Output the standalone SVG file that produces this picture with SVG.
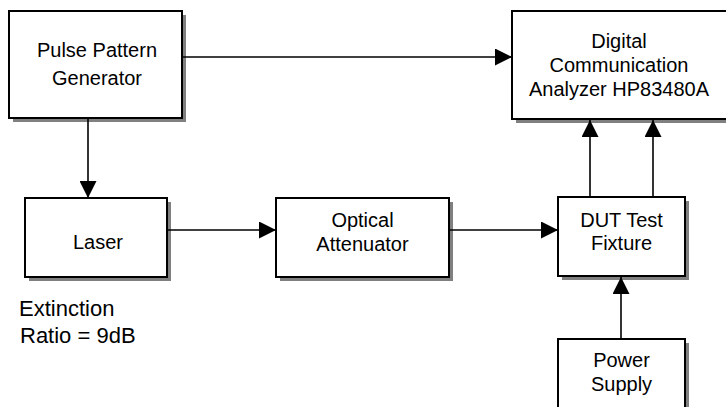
<svg xmlns="http://www.w3.org/2000/svg" width="726" height="407" viewBox="0 0 726 407">
<style>
.shadow{fill:#808080;stroke:none}
.box{fill:#ffffff;stroke:#000000;stroke-width:2}
.lbl{font-family:"Liberation Sans",Arial,sans-serif;font-size:20px;fill:#000000;text-anchor:middle}
.note{font-family:"Liberation Sans",Arial,sans-serif;font-size:22px;fill:#000000}
.conn{fill:none;stroke:#000000;stroke-width:1.6;marker-end:url(#arrow)}
</style>
<defs>
<marker id="arrow" markerUnits="userSpaceOnUse" markerWidth="17" markerHeight="17" refX="17" refY="8.5" orient="auto">
<path d="M0,0 L17,8.5 L0,17 z" fill="#000000"/>
</marker>
</defs>
<rect width="726" height="407" fill="#ffffff"/>
<g id="ppg">
<rect class="shadow" x="13" y="15" width="173" height="107"/>
<rect class="box" x="9" y="11" width="173" height="107"/>
<text class="lbl" x="97" y="57">Pulse Pattern</text>
<text class="lbl" x="97" y="85">Generator</text>
</g>
<g id="dca">
<rect class="shadow" x="516" y="15" width="220" height="108"/>
<rect class="box" x="512" y="11" width="220" height="108"/>
<text class="lbl" x="619" y="48">Digital</text>
<text class="lbl" x="619" y="72">Communication</text>
<text class="lbl" x="619" y="96">Analyzer HP83480A</text>
</g>
<g id="laser">
<rect class="shadow" x="29" y="202" width="142" height="79"/>
<rect class="box" x="25" y="198" width="142" height="79"/>
<text class="lbl" x="98" y="249">Laser</text>
</g>
<g id="attenuator">
<rect class="shadow" x="280" y="202" width="173" height="79"/>
<rect class="box" x="276" y="198" width="173" height="79"/>
<text class="lbl" x="362.5" y="227">Optical</text>
<text class="lbl" x="362.5" y="251">Attenuator</text>
</g>
<g id="dut">
<rect class="shadow" x="562" y="201" width="127" height="79"/>
<rect class="box" x="558" y="197" width="127" height="79"/>
<text class="lbl" x="621.5" y="227">DUT Test</text>
<text class="lbl" x="621.5" y="250">Fixture</text>
</g>
<g id="power">
<rect class="shadow" x="562" y="343" width="127" height="80"/>
<rect class="box" x="558" y="339" width="127" height="80"/>
<text class="lbl" x="621.5" y="367">Power</text>
<text class="lbl" x="621.5" y="391">Supply</text>
</g>
<g id="extinction">
<text class="note" x="19" y="316">Extinction</text>
<text class="note" x="20" y="343">Ratio = 9dB</text>
</g>
<g id="connectors">
<path class="conn" d="M182,57 H512"/>
<path class="conn" d="M88,118 V198"/>
<path class="conn" d="M167,230 H276"/>
<path class="conn" d="M449,230 H558"/>
<path class="conn" d="M590,197 V120"/>
<path class="conn" d="M653,197 V120"/>
<path class="conn" d="M621,339 V277"/>
</g>
</svg>
